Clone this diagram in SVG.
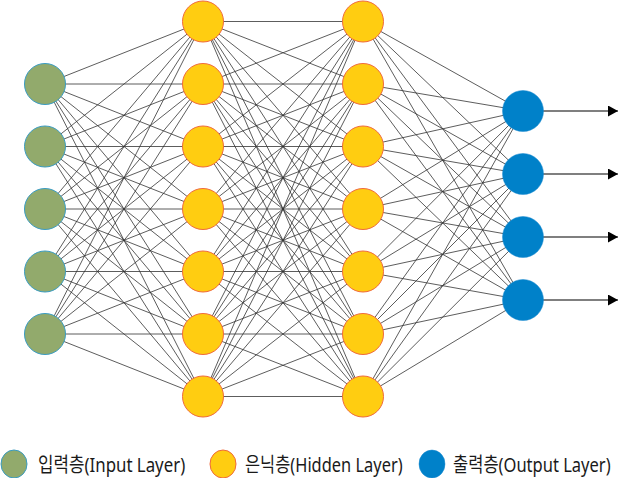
<svg xmlns="http://www.w3.org/2000/svg" width="620" height="478" viewBox="0 0 620 478">
<style>
.c{stroke:#333;stroke-width:0.8;fill:none}
.in{fill:#92AA6C;stroke:#3A9CC2;stroke-width:1}
.hd{fill:#FFCD11;stroke:#F06A3C;stroke-width:1}
.out{fill:#0081C9;stroke:#1a8bd0;stroke-width:0.5}
.ar{stroke:#000;stroke-width:1.2;fill:none}
.lg{font-family:"Noto Sans","Noto Sans CJK KR",sans-serif;font-size:20px;fill:#1a1a1a}
</style>
<defs>
<marker id="ah" markerUnits="userSpaceOnUse" markerWidth="11" markerHeight="12" refX="10" refY="5.5" orient="auto">
<path d="M0,0L10,5.5L0,11Z" fill="#000"/>
</marker>
</defs>
<g id="connectors">
<path class="c" d="M45 84L203 21.5M45 84L203 84M45 84L203 146.5M45 84L203 209M45 84L203 271.5M45 84L203 334M45 84L203 396.5
M45 146.5L203 21.5M45 146.5L203 84M45 146.5L203 146.5M45 146.5L203 209M45 146.5L203 271.5M45 146.5L203 334M45 146.5L203 396.5
M45 209L203 21.5M45 209L203 84M45 209L203 146.5M45 209L203 209M45 209L203 271.5M45 209L203 334M45 209L203 396.5
M45 271.5L203 21.5M45 271.5L203 84M45 271.5L203 146.5M45 271.5L203 209M45 271.5L203 271.5M45 271.5L203 334M45 271.5L203 396.5
M45 334L203 21.5M45 334L203 84M45 334L203 146.5M45 334L203 209M45 334L203 271.5M45 334L203 334M45 334L203 396.5"/>
<path class="c" d="M203 21.5L363 21.5M203 21.5L363 84M203 21.5L363 146.5M203 21.5L363 209M203 21.5L363 271.5M203 21.5L363 334M203 21.5L363 396.5
M203 84L363 21.5M203 84L363 84M203 84L363 146.5M203 84L363 209M203 84L363 271.5M203 84L363 334M203 84L363 396.5
M203 146.5L363 21.5M203 146.5L363 84M203 146.5L363 146.5M203 146.5L363 209M203 146.5L363 271.5M203 146.5L363 334M203 146.5L363 396.5
M203 209L363 21.5M203 209L363 84M203 209L363 146.5M203 209L363 209M203 209L363 271.5M203 209L363 334M203 209L363 396.5
M203 271.5L363 21.5M203 271.5L363 84M203 271.5L363 146.5M203 271.5L363 209M203 271.5L363 271.5M203 271.5L363 334M203 271.5L363 396.5
M203 334L363 21.5M203 334L363 84M203 334L363 146.5M203 334L363 209M203 334L363 271.5M203 334L363 334M203 334L363 396.5
M203 396.5L363 21.5M203 396.5L363 84M203 396.5L363 146.5M203 396.5L363 209M203 396.5L363 271.5M203 396.5L363 334M203 396.5L363 396.5"/>
<path class="c" d="M363 21.5L523 111M363 21.5L523 174M363 21.5L523 237M363 21.5L523 300
M363 84L523 111M363 84L523 174M363 84L523 237M363 84L523 300
M363 146.5L523 111M363 146.5L523 174M363 146.5L523 237M363 146.5L523 300
M363 209L523 111M363 209L523 174M363 209L523 237M363 209L523 300
M363 271.5L523 111M363 271.5L523 174M363 271.5L523 237M363 271.5L523 300
M363 334L523 111M363 334L523 174M363 334L523 237M363 334L523 300
M363 396.5L523 111M363 396.5L523 174M363 396.5L523 237M363 396.5L523 300"/>
<line class="ar" x1="543" y1="111" x2="618" y2="111" marker-end="url(#ah)"/>
<line class="ar" x1="543" y1="174" x2="618" y2="174" marker-end="url(#ah)"/>
<line class="ar" x1="543" y1="237" x2="618" y2="237" marker-end="url(#ah)"/>
<line class="ar" x1="543" y1="300" x2="618" y2="300" marker-end="url(#ah)"/>
</g>
<g id="input-1"><circle class="in" cx="45" cy="84" r="20.5"/></g>
<g id="input-2"><circle class="in" cx="45" cy="146.5" r="20.5"/></g>
<g id="input-3"><circle class="in" cx="45" cy="209" r="20.5"/></g>
<g id="input-4"><circle class="in" cx="45" cy="271.5" r="20.5"/></g>
<g id="input-5"><circle class="in" cx="45" cy="334" r="20.5"/></g>
<g id="hidden1-1"><circle class="hd" cx="203" cy="21.5" r="20.5"/></g>
<g id="hidden1-2"><circle class="hd" cx="203" cy="84" r="20.5"/></g>
<g id="hidden1-3"><circle class="hd" cx="203" cy="146.5" r="20.5"/></g>
<g id="hidden1-4"><circle class="hd" cx="203" cy="209" r="20.5"/></g>
<g id="hidden1-5"><circle class="hd" cx="203" cy="271.5" r="20.5"/></g>
<g id="hidden1-6"><circle class="hd" cx="203" cy="334" r="20.5"/></g>
<g id="hidden1-7"><circle class="hd" cx="203" cy="396.5" r="20.5"/></g>
<g id="hidden2-1"><circle class="hd" cx="363" cy="21.5" r="20.5"/></g>
<g id="hidden2-2"><circle class="hd" cx="363" cy="84" r="20.5"/></g>
<g id="hidden2-3"><circle class="hd" cx="363" cy="146.5" r="20.5"/></g>
<g id="hidden2-4"><circle class="hd" cx="363" cy="209" r="20.5"/></g>
<g id="hidden2-5"><circle class="hd" cx="363" cy="271.5" r="20.5"/></g>
<g id="hidden2-6"><circle class="hd" cx="363" cy="334" r="20.5"/></g>
<g id="hidden2-7"><circle class="hd" cx="363" cy="396.5" r="20.5"/></g>
<g id="output-1"><circle class="out" cx="523" cy="111" r="20.5"/></g>
<g id="output-2"><circle class="out" cx="523" cy="174" r="20.5"/></g>
<g id="output-3"><circle class="out" cx="523" cy="237" r="20.5"/></g>
<g id="output-4"><circle class="out" cx="523" cy="300" r="20.5"/></g>
<g id="legend-input">
<ellipse class="in" cx="14" cy="464" rx="13" ry="14"/>
<text class="lg" transform="translate(38,472) scale(0.8,1)" textLength="184" lengthAdjust="spacingAndGlyphs">입력층(Input Layer)</text>
</g>
<g id="legend-hidden">
<ellipse class="hd" cx="223" cy="464" rx="13" ry="14"/>
<text class="lg" transform="translate(245,472) scale(0.8,1)" textLength="197" lengthAdjust="spacingAndGlyphs">은닉층(Hidden Layer)</text>
</g>
<g id="legend-output">
<ellipse class="out" cx="432" cy="464" rx="13" ry="14"/>
<text class="lg" transform="translate(453,472) scale(0.8,1)" textLength="197" lengthAdjust="spacingAndGlyphs">출력층(Output Layer)</text>
</g>
</svg>
